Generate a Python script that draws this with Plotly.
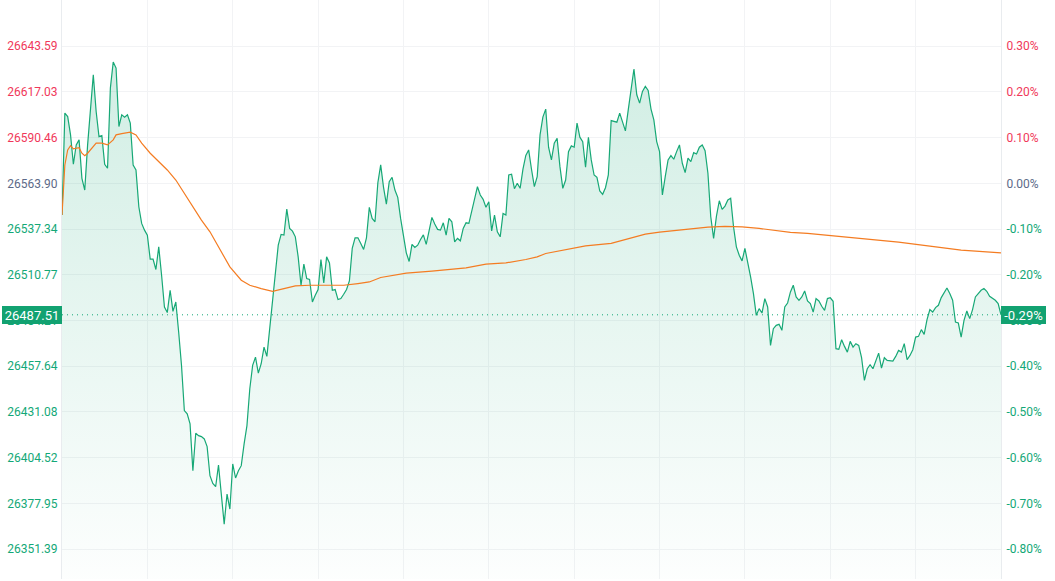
import plotly.graph_objects as go

prev_close = 26563.90
last_price = 26487.51

# minute index since 09:30 (lunch break removed), 330 = 16:00
minutes = list(range(0, 10)) + list(range(11, 331))
prices = [
    26545.44, 26604.66, 26602.68, 26592.02, 26574.96, 26586.20, 26589.11, 26566.81, 26560.00, 26586.20,
    26626.96, 26605.59, 26591.03, 26591.62, 26574.96, 26572.63, 26619.22, 26634.36, 26630.86, 26596.86,
    26603.67, 26602.33, 26603.67, 26598.84, 26574.56, 26571.64, 26550.27, 26540.61, 26536.71, 26533.80,
    26519.82, 26519.82, 26513.82, 26526.98, 26510.50, 26492.05, 26488.79, 26501.77, 26489.54, 26494.96,
    26477.49, 26458.10, 26431.90, 26429.98, 26424.15, 26396.96, 26418.68, 26417.34, 26416.76, 26415.42,
    26410.93, 26394.05, 26389.57, 26387.64, 26400.28, 26383.39, 26365.92, 26383.39, 26374.66, 26400.86,
    26392.71, 26396.96, 26399.87, 26412.51, 26423.16, 26444.53, 26458.10, 26462.93, 26453.62, 26459.09,
    26468.76, 26463.34, 26480.40, 26495.95, 26515.34, 26527.97, 26534.20, 26533.80, 26548.94, 26537.70,
    26536.13, 26532.81, 26521.16, 26504.68, 26516.91, 26508.58, 26508.00, 26494.96, 26498.86, 26502.18,
    26519.65, 26506.02, 26521.16, 26517.67, 26501.77, 26502.18, 26496.36, 26496.94, 26499.44, 26502.18,
    26507.19, 26526.05, 26532.22, 26532.22, 26528.96, 26525.47, 26532.22, 26549.93, 26543.52, 26541.54,
    26564.25, 26574.56, 26561.57, 26551.85, 26564.83, 26567.39, 26560.00, 26555.75, 26543.52, 26532.81,
    26523.49, 26518.48, 26528.38, 26526.63, 26527.97, 26531.29, 26533.97, 26528.38, 26536.71, 26544.10,
    26540.20, 26537.12, 26536.71, 26540.96, 26533.80, 26543.52, 26541.54, 26529.89, 26531.87, 26530.48,
    26537.70, 26540.96, 26540.61, 26548.35, 26555.17, 26561.92, 26557.09, 26554.58, 26549.93, 26553.19,
    26536.30, 26545.44, 26535.72, 26532.81, 26546.43, 26545.44, 26568.73, 26569.14, 26560.76, 26563.90,
    26560.99, 26572.10, 26580.09, 26583.29, 26572.05, 26561.92, 26567.74, 26592.02, 26602.33, 26606.99,
    26584.86, 26577.47, 26587.19, 26590.10, 26573.57, 26560.99, 26565.82, 26582.30, 26585.62, 26584.86,
    26598.84, 26590.68, 26588.12, 26573.22, 26590.68, 26577.47, 26568.73, 26567.39, 26559.42, 26557.49,
    26561.34, 26568.73, 26600.35, 26599.77, 26599.42, 26604.66, 26598.84, 26594.35, 26606.58, 26618.23,
    26630.28, 26615.32, 26610.48, 26617.24, 26620.15, 26617.82, 26606.99, 26600.76, 26588.12, 26582.30,
    26557.09, 26567.74, 26577.47, 26579.97, 26577.87, 26582.30, 26586.20, 26575.55, 26570.07, 26578.46,
    26576.48, 26581.72, 26580.96, 26584.86, 26586.20, 26582.88, 26569.72, 26544.45, 26531.87, 26544.86,
    26553.77, 26548.76, 26550.68, 26554.18, 26555.17, 26538.63, 26526.98, 26522.15, 26518.83, 26526.05,
    26518.25, 26509.52, 26499.85, 26487.21, 26491.11, 26488.55, 26496.94, 26492.05, 26469.75, 26479.47,
    26481.39, 26481.97, 26478.48, 26492.05, 26494.38, 26500.78, 26504.68, 26497.87, 26495.95, 26497.87,
    26501.36, 26495.54, 26494.03, 26489.13, 26496.94, 26495.54, 26492.45, 26490.13, 26496.94, 26497.40,
    26495.37, 26467.82, 26467.42, 26473.06, 26469.16, 26465.84, 26472.07, 26468.76, 26470.74, 26469.75,
    26462.58, 26449.37, 26456.18, 26458.51, 26456.18, 26461.42, 26465.26, 26456.53, 26462.58, 26461.01,
    26460.60, 26460.60, 26463.34, 26466.84, 26465.84, 26470.74, 26461.42, 26463.92, 26467.24, 26474.58,
    26474.99, 26478.89, 26476.15, 26484.71, 26490.53, 26489.13, 26491.70, 26493.04, 26497.52, 26500.78,
    26503.11, 26499.85, 26495.95, 26483.31, 26482.73, 26474.58, 26484.30, 26489.72, 26485.29, 26490.53,
    26497.87, 26499.85, 26501.77, 26502.76, 26501.19, 26498.28, 26497.29, 26495.95, 26494.03, 26487.51,
]

avg_minutes = [0, 1, 2, 3, 4, 6, 7, 8, 9, 11, 12, 14, 16, 18, 19, 21, 24, 26, 28, 31,
               34, 37, 40, 43, 46, 49, 52, 56, 59, 63, 66, 70, 73, 74, 78, 82, 87, 93, 99, 104,
               108, 112, 118, 121, 130, 142, 149, 156, 163, 167, 170, 180, 184, 193, 198, 205, 210, 217, 222, 227,
               233, 239, 245, 251, 256, 262, 268, 272, 284, 294, 305, 316, 330]
avg_prices = [26545.44, 26574.56, 26583.29, 26585.79, 26583.87, 26584.63, 26581.37, 26579.97, 26581.37, 26585.21,
              26587.19, 26587.19, 26586.20, 26589.11, 26592.02, 26592.78, 26593.60, 26592.02, 26587.19, 26581.37,
              26576.48, 26571.64, 26565.82, 26558.08, 26550.27, 26542.53, 26535.72, 26524.07, 26515.34, 26507.59,
              26504.68, 26502.76, 26501.36, 26501.19, 26502.76, 26504.27, 26504.68, 26504.68, 26504.68, 26505.67,
              26506.60, 26509.17, 26511.09, 26511.67, 26512.83, 26514.76, 26516.91, 26517.67, 26519.65, 26521.16,
              26523.14, 26526.05, 26527.57, 26528.96, 26531.29, 26534.38, 26535.54, 26536.71, 26537.70, 26538.45,
              26538.86, 26538.63, 26537.70, 26536.30, 26535.37, 26534.79, 26533.80, 26533.21, 26531.47, 26529.72,
              26527.39, 26525.06, 26523.49]

price_ticks = [26643.59, 26617.03, 26590.46, 26563.90, 26537.34, 26510.77,
               26484.21, 26457.64, 26431.08, 26404.52, 26377.95, 26351.39]
pct_ticks = [0.30, 0.20, 0.10, 0.00, -0.10, -0.20, -0.30, -0.40, -0.50, -0.60, -0.70, -0.80]
time_grid = [0, 30, 60, 90, 120, 150, 180, 210, 240, 270, 300, 330]

RED = "#f0385a"
FLAT = "#5d6a88"
GREEN = "#13a877"
LINE = "#17a876"
ORANGE = "#f47c22"
FONT = "Roboto"

y_lo, y_hi = 26334.04, 26670.38
pct_lo = (y_lo / prev_close - 1) * 100
pct_hi = (y_hi / prev_close - 1) * 100


def col(v):
    if v > 1e-9:
        return RED
    if v < -1e-9:
        return GREEN
    return FLAT


price_text = [f"<span style='color:{col(t - prev_close)}'>{t:.2f}</span>" for t in price_ticks]
pct_text = [f"<span style='color:{col(t)}'>{t:.2f}%</span>" for t in pct_ticks]

fig = go.Figure()
fig.add_trace(go.Scatter(
    x=minutes, y=prices, mode="lines",
    line=dict(color=LINE, width=1.2),
    fill="tozeroy",
    fillgradient=dict(type="vertical",
                      colorscale=[[0, "rgba(23,168,118,0.01)"], [1, "rgba(23,168,118,0.2)"]],
                      start=y_lo, stop=26640),
    hoverinfo="skip", showlegend=False,
))
fig.add_trace(go.Scatter(
    x=avg_minutes, y=avg_prices, mode="lines",
    line=dict(color=ORANGE, width=1.2),
    hoverinfo="skip", showlegend=False,
))
fig.add_trace(go.Scatter(
    x=minutes, y=[(p / prev_close - 1) * 100 for p in prices], yaxis="y2",
    mode="lines", line=dict(width=0, color="rgba(0,0,0,0)"),
    hoverinfo="skip", showlegend=False,
))

last_pct = (last_price / prev_close - 1) * 100

fig.add_shape(type="line", xref="paper", x0=0, x1=1, yref="y", y0=last_price, y1=last_price,
              line=dict(color=GREEN, width=1, dash="1px,4px"))

fig.add_annotation(xref="paper", x=0, xanchor="right", yref="y", y=last_price, yanchor="middle",
                   text=f"{last_price:.2f}", showarrow=False, bgcolor="#12a271",
                   font=dict(family=FONT, size=13, color="white"),
                   width=60, height=18, borderpad=0, borderwidth=0, align="center")
fig.add_annotation(xref="paper", x=1, xanchor="left", yref="y", y=last_price, yanchor="middle",
                   text=f"{last_pct:.2f}%", showarrow=False, bgcolor="#12a271",
                   font=dict(family=FONT, size=13, color="white"),
                   width=45, height=18, borderpad=0, borderwidth=0, align="center")

fig.update_layout(
    width=1055, height=581,
    margin=dict(l=62, r=54, t=0, b=2),
    paper_bgcolor="white", plot_bgcolor="white",
    font=dict(family=FONT, size=12),
    showlegend=False,
    xaxis=dict(range=[0, 330], tickvals=time_grid, showticklabels=False,
               showgrid=True, gridcolor="#f2f3f5", gridwidth=1, zeroline=False,
               showline=False, ticks=""),
    yaxis=dict(range=[y_lo, y_hi], tickvals=price_ticks, ticktext=price_text,
               showgrid=True, gridcolor="#f2f3f5", zeroline=False,
               showline=True, linecolor="#e9ecef", ticks="", ticklabelstandoff=1,
               tickfont=dict(family=FONT, size=12)),
    yaxis2=dict(range=[pct_lo, pct_hi], tickvals=pct_ticks, ticktext=pct_text,
                overlaying="y", side="right", showgrid=False, zeroline=False,
                showline=True, linecolor="#e9ecef", ticks="", ticklabelstandoff=2,
                tickfont=dict(family=FONT, size=12)),
)

fig.write_html("out.html", config={"displayModeBar": False},
               post_script="document.body.style.margin='0px';")
